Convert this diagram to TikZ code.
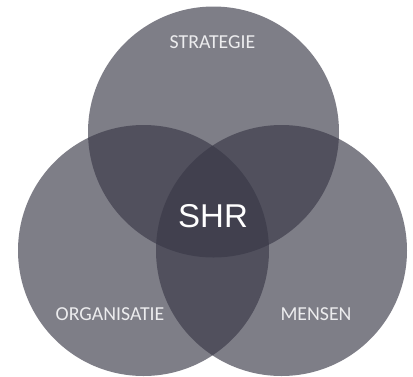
\documentclass[tikz,border=0pt]{standalone}
\usepackage{fontspec}
\newfontfamily\labfont{Carlito}
\newfontfamily\shrfont{Liberation Sans}
\definecolor{vennfill}{RGB}{57,56,71}
\definecolor{labcol}{RGB}{236,236,238}
\begin{document}
\begin{tikzpicture}[x=1pt,y=-1pt,
  venn/.style={circle,fill=vennfill,fill opacity=0.648,draw=none,minimum size=251pt,inner sep=0pt},
  lab/.style={font=\labfont\fontsize{19.8}{22}\selectfont,text=labcol,inner sep=0pt,anchor=center},
  shr/.style={font=\shrfont\fontsize{33}{36}\selectfont,text=white,inner sep=0pt,anchor=center}]
\useasboundingbox (0,0) rectangle (413,376);
\fill[white] (0,0) rectangle (413,376);
\node[venn] (top) at (213.5,132) {};
\node[venn] (left) at (143.5,250.5) {};
\node[venn] (right) at (281.5,250.5) {};
\node[lab] (ts) at (212.5,42) {STRATEGIE};
\node[lab] (to) at (110,314) {ORGANISATIE};
\node[lab] (tm) at (316,314) {MENSEN};
\node[shr] (tc) at (213,216) {SHR};
\end{tikzpicture}
\end{document}
